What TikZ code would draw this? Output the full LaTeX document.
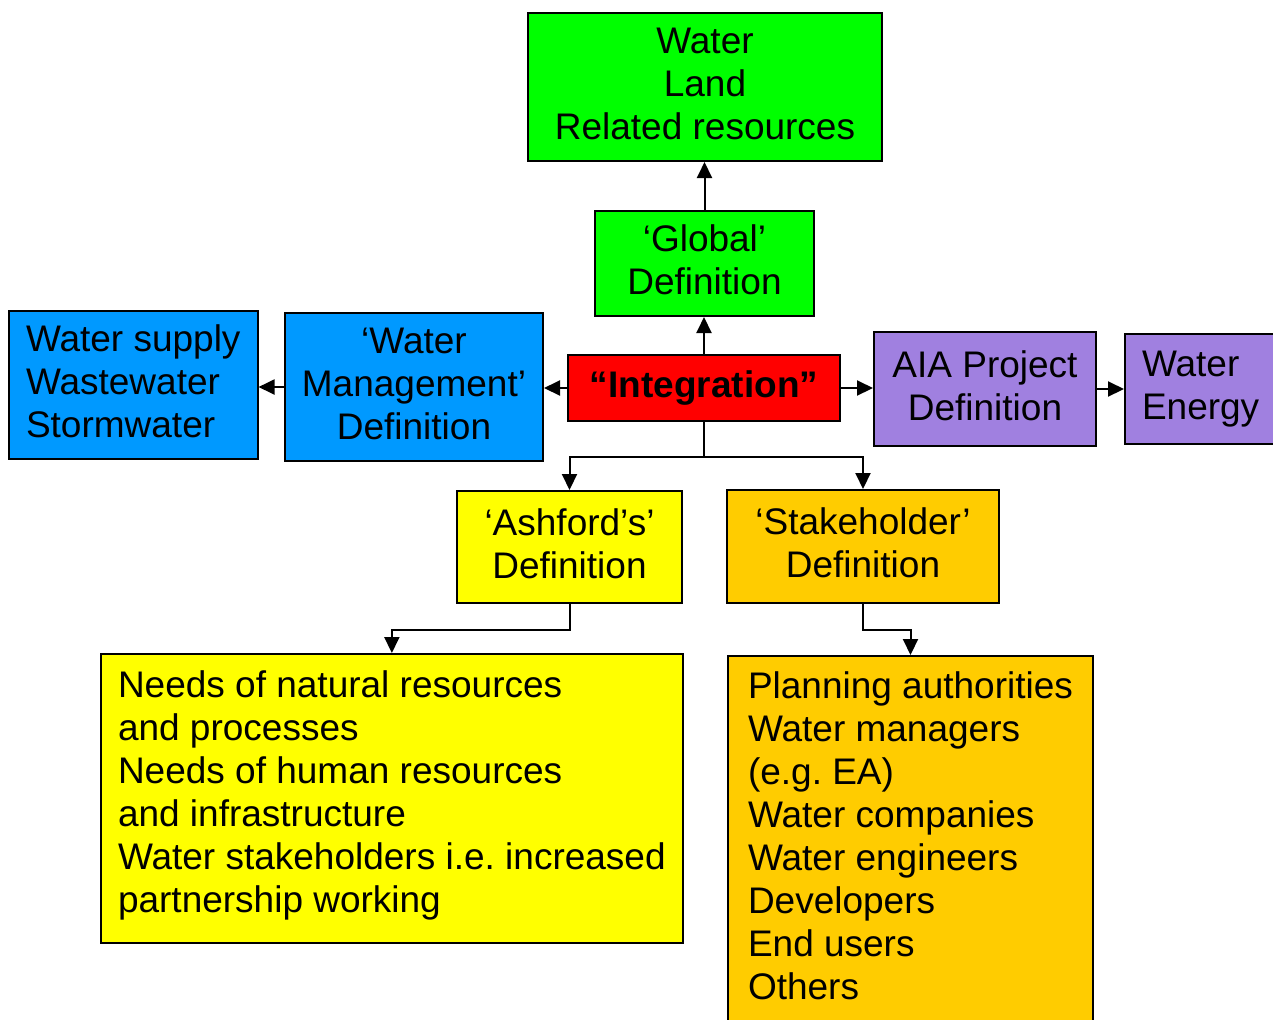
\documentclass[tikz,border=0pt]{standalone}
\usepackage{fontspec}
\setmainfont{Liberation Sans}
\frenchspacing
\usetikzlibrary{arrows.meta,positioning,calc}
\definecolor{vgreen}{RGB}{0,255,0}
\definecolor{vblue}{RGB}{0,153,255}
\definecolor{vred}{RGB}{255,0,0}
\definecolor{vpurple}{RGB}{160,128,224}
\definecolor{vyellow}{RGB}{255,255,0}
\definecolor{vorange}{RGB}{255,204,0}

\begin{document}
\begin{tikzpicture}[
      x=0.5pt,y=-0.5pt,
      box/.style = {rectangle,draw,line width=1pt,anchor=north west,inner ysep=0pt,text depth=3.5pt,font=\fontsize{18.5}{21.5}\selectfont},
      cbox/.style = {box,inner xsep=4pt,align=center},
      lbox/.style = {box,inner xsep=8.5pt,align=left},
      arrow/.style = {line width=1pt,-{Triangle[length=8pt,width=7.5pt]}}
      ]
      \useasboundingbox (0,0) rectangle (1273,1019);
      \node (resources)[cbox,fill=vgreen,minimum width=177pt,minimum height=74pt] at (527,12) {Water\\Land\\Related resources};
      \node (global)[cbox,fill=vgreen,minimum width=109.5pt,minimum height=52.5pt] at (594,210) {‘Global’\\Definition};
      \node (integration)[cbox,fill=vred,minimum width=136pt,minimum height=33pt,font=\fontsize{18.5}{21.5}\selectfont\bfseries] at (567,354) {“Integration”};
      \node (watermgmt)[cbox,fill=vblue,minimum width=129pt,minimum height=74pt] at (284,312) {‘Water\\Management’\\Definition};
      \node (supply)[lbox,fill=vblue,minimum height=74pt] at (8,310) {Water supply\\Wastewater\\Stormwater};
      \node (aia)[cbox,fill=vpurple,minimum width=111pt,minimum height=57pt] at (873,331) {AIA Project\\Definition};
      \node (energy)[lbox,fill=vpurple,minimum height=55pt] at (1124,333) {Water\\Energy};
      \node (ashford)[cbox,fill=vyellow,minimum width=112.5pt,minimum height=56pt] at (456,490) {‘Ashford’s’\\Definition};
      \node (stakeholder)[cbox,fill=vorange,minimum width=136pt,minimum height=56.5pt] at (726,489) {‘Stakeholder’\\Definition};
      \node (needs)[lbox,fill=vyellow,minimum height=144.5pt,text depth=7pt] at (100,653) {Needs of natural resources\\and processes\\Needs of human resources\\and infrastructure\\Water stakeholders i.e. increased\\partnership working};
      \node (planning)[lbox,fill=vorange,inner xsep=10pt,inner ysep=8pt,text depth=20pt] at (727,655) {Planning authorities\\Water managers\\(e.g. EA)\\Water companies\\Water engineers\\Developers\\End users\\Others};

      \draw[arrow] (global.north) -- (global.north |- resources.south);
      \draw[arrow] (integration.north) -- (integration.north |- global.south);
      \draw[arrow] (integration.west) -- (integration.west -| watermgmt.east);
      \draw[arrow] (watermgmt.west) -- (watermgmt.west -| supply.east);
      \draw[arrow] (integration.east) -- (integration.east -| aia.west);
      \draw[arrow] (aia.east) -- (aia.east -| energy.west);
      \draw[arrow] (integration.south) -- ++(0,35) -| (ashford.north);
      \draw[arrow] (integration.south) -- ++(0,35) -| (stakeholder.north);
      \draw[arrow] (ashford.south) -- ++(0,26) -| (needs.north);
      \draw[arrow] (stakeholder.south) -- ++(0,26) -| (planning.north);
    \end{tikzpicture}
\end{document}
